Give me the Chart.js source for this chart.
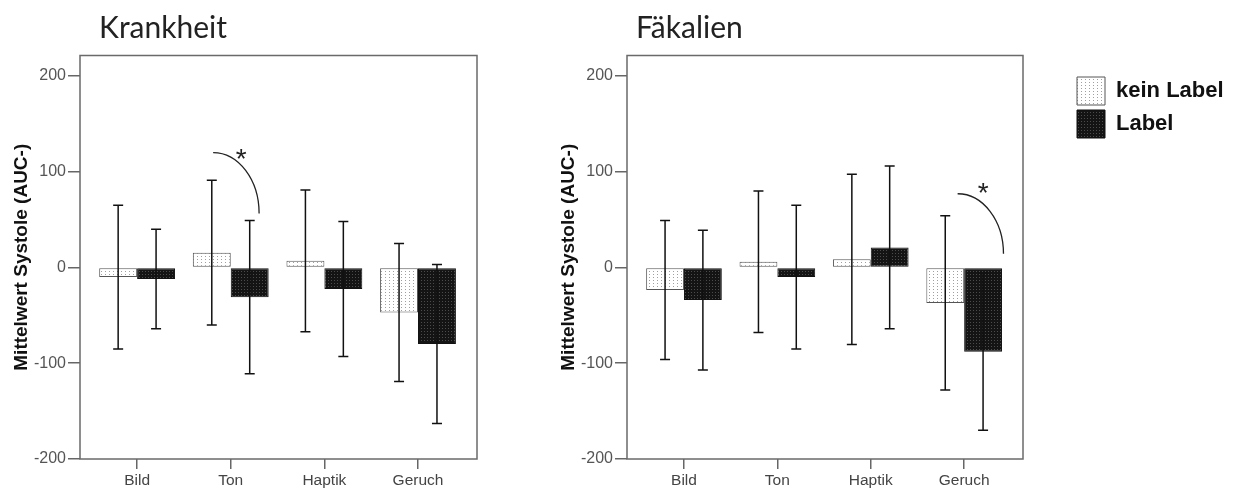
<!DOCTYPE html>
<html>
<head>
<meta charset="utf-8">
<script src="https://cdn.jsdelivr.net/npm/chart.js@4.4.1/dist/chart.umd.min.js"></script>
<style>
  html, body { margin: 0; padding: 0; background: #fff; }
  body { width: 1240px; height: 489px; position: relative; overflow: hidden; }
  canvas { position: absolute; top: 0; }
  #chartK { left: 0; }
  #chartF { left: 540px; }
</style>
</head>
<body>
<canvas id="chartK" width="540" height="489"></canvas>
<canvas id="chartF" width="700" height="489"></canvas>
<script>
const categories = ['Bild', 'Ton', 'Haptik', 'Geruch'];
const seriesNames = ['kein Label', 'Label'];
const yTicks = [-200, -100, 0, 100, 200];

// Krankheit: means and half-widths of the error bars
const krankKein = [-10, 15.5, 7, -47];
const krankKeinErr = [75, 75.5, 74, 72];
const krankLabel = [-12, -31, -22.5, -80];
const krankLabelErr = [52, 80, 70.5, 83];

// Fäkalien
const faekKein = [-23.5, 6, 8.5, -37];
const faekKeinErr = [72.5, 74, 89, 91];
const faekLabel = [-34, -10, 21, -88];
const faekLabelErr = [73, 75, 85, 82];

// significance bracket [x0, y0, x1, y1] and star [x, y], in axis units
const krankArc = [0.812, 120, 1.303, 56.4];
const krankStar = [1.111, 120.4];
const faekArc = [2.93, 77, 3.421, 14.3];
const faekStar = [3.204, 84.9];

const FONT = '"Liberation Sans", Arial, sans-serif';

function makePattern(ctx, bg, dot, w, h) {
  const tile = document.createElement('canvas');
  tile.width = w; tile.height = h;
  const g = tile.getContext('2d');
  g.fillStyle = bg; g.fillRect(0, 0, w, h);
  g.fillStyle = dot; g.fillRect(1, 1, 1, 1);
  return ctx.createPattern(tile, 'repeat');
}

// error bars, bracket + star, and the closed frame around the plot
const panelPlugin = {
  id: 'panel',
  afterLayout(chart, args, opts) {
    const a = chart.chartArea;
    if (chart.titleBlock) chart.titleBlock.left = a.left + opts.titleOffset;
    if (opts.legendAt && chart.legend) {
      const lg = chart.legend;
      lg.left = a.right + opts.legendAt[0];
      lg.top = opts.legendAt[1];
      lg.right = chart.width;
      lg.bottom = a.bottom;
      lg.width = lg.right - lg.left;
      lg.height = lg.bottom - lg.top;
    }
  },
  afterDatasetsDraw(chart, args, opts) {
    const ctx = chart.ctx;
    const x = chart.scales.x, y = chart.scales.y;
    ctx.save();
    ctx.strokeStyle = '#111';
    ctx.lineWidth = 1.5;
    chart.data.datasets.forEach((ds, d) => {
      chart.getDatasetMeta(d).data.forEach((bar, i) => {
        const m = ds.data[i].y, e = ds.err[i];
        const top = y.getPixelForValue(m + e), bot = y.getPixelForValue(m - e);
        ctx.beginPath();
        ctx.moveTo(bar.x, top); ctx.lineTo(bar.x, bot);
        ctx.moveTo(bar.x - 5, top); ctx.lineTo(bar.x + 5, top);
        ctx.moveTo(bar.x - 5, bot); ctx.lineTo(bar.x + 5, bot);
        ctx.stroke();
      });
    });

    const [x0, y0, x1, y1] = opts.arc;
    const ax = x.getPixelForValue(x0), ay = y.getPixelForValue(y0);
    const bx = x.getPixelForValue(x1), by = y.getPixelForValue(y1);
    ctx.strokeStyle = '#222';
    ctx.lineWidth = 1.3;
    ctx.beginPath();
    ctx.ellipse(ax, by, bx - ax, by - ay, 0, -Math.PI / 2, 0);
    ctx.stroke();

    const size = 28;
    ctx.fillStyle = '#222';
    ctx.font = size + 'px ' + FONT;
    ctx.textAlign = 'center';
    ctx.textBaseline = 'alphabetic';
    ctx.fillText('*', x.getPixelForValue(opts.star[0]), y.getPixelForValue(opts.star[1]) + 0.575 * size);

    const a = chart.chartArea;
    ctx.strokeStyle = '#6a6a6a';
    ctx.lineWidth = 1.5;
    ctx.strokeRect(a.left, a.top, a.right - a.left, a.bottom - a.top);
    ctx.restore();
  }
};

function buildChart(id, cfg) {
  const el = document.getElementById(id);
  const g = el.getContext('2d');
  const keinFill = makePattern(g, '#ffffff', '#a0a0a0', 4, 3);
  const labelFill = makePattern(g, '#141414', '#4c4c4c', 3, 3);
  const points = arr => arr.map((v, i) => ({ x: i, y: v }));

  return new Chart(el, {
    type: 'bar',
    data: {
      datasets: [
        { label: seriesNames[0], data: points(cfg.kein), err: cfg.keinErr,
          backgroundColor: keinFill, borderColor: '#555', borderWidth: 1, borderSkipped: false },
        { label: seriesNames[1], data: points(cfg.label), err: cfg.labelErr,
          backgroundColor: labelFill, borderColor: '#111', borderWidth: 1, borderSkipped: false }
      ]
    },
    options: {
      responsive: false,
      animation: false,
      layout: { padding: { left: cfg.padLeft, right: cfg.padRight, top: 0, bottom: 0 } },
      datasets: { bar: { categoryPercentage: 0.81, barPercentage: 1 } },
      scales: {
        x: {
          type: 'linear', min: -0.61, max: 3.63, offset: false,
          afterBuildTicks: s => { s.ticks = categories.map((c, i) => ({ value: i })); },
          afterFit: s => { s.height = 30; },
          grid: { offset: false, drawOnChartArea: false, tickLength: 10, color: '#666', lineWidth: 1.5 },
          border: { display: false },
          ticks: { callback: v => categories[v], font: { family: FONT, size: 15.5 }, color: '#444',
                   padding: 2, maxRotation: 0, autoSkip: false }
        },
        y: {
          min: -200, max: 221.4,
          afterBuildTicks: s => { s.ticks = yTicks.map(v => ({ value: v })); },
          afterFit: s => { s.width = 80; },
          grid: { drawOnChartArea: false, tickLength: 12, color: '#666', lineWidth: 1.5 },
          border: { display: false },
          ticks: { font: { family: FONT, size: 16 }, color: '#555', padding: 2 },
          title: { display: true, text: 'Mittelwert Systole (AUC-)', color: '#111',
                   font: { family: FONT, size: 19, weight: 'bold' }, padding: { top: 10, bottom: 0 } }
        }
      },
      plugins: {
        title: { display: true, text: cfg.title, align: 'start', color: '#222',
                 font: { family: 'Lato, "Open Sans", sans-serif', size: 30, weight: 'normal' },
                 padding: { top: 10, bottom: 9.5 } },
        legend: cfg.legend ? {
          display: true, position: 'chartArea', align: 'start',
          labels: { boxWidth: 28, boxHeight: 28, padding: 5, color: '#111',
                    font: { family: FONT, size: 22, weight: 'bold' } }
        } : { display: false },
        tooltip: { enabled: false },
        panel: { titleOffset: cfg.titleOffset, legendAt: cfg.legendAt, arc: cfg.arc, star: cfg.star }
      }
    },
    plugins: [panelPlugin]
  });
}

buildChart('chartK', {
  title: 'Krankheit', kein: krankKein, keinErr: krankKeinErr, label: krankLabel, labelErr: krankLabelErr,
  arc: krankArc, star: krankStar, padLeft: 0, padRight: 63, titleOffset: 19, legend: false
});

buildChart('chartF', {
  title: 'Fäkalien', kein: faekKein, keinErr: faekKeinErr, label: faekLabel, labelErr: faekLabelErr,
  arc: faekArc, star: faekStar, padLeft: 7, padRight: 217, titleOffset: 9, legend: true, legendAt: [49, 72]
});
</script>
</body>
</html>
